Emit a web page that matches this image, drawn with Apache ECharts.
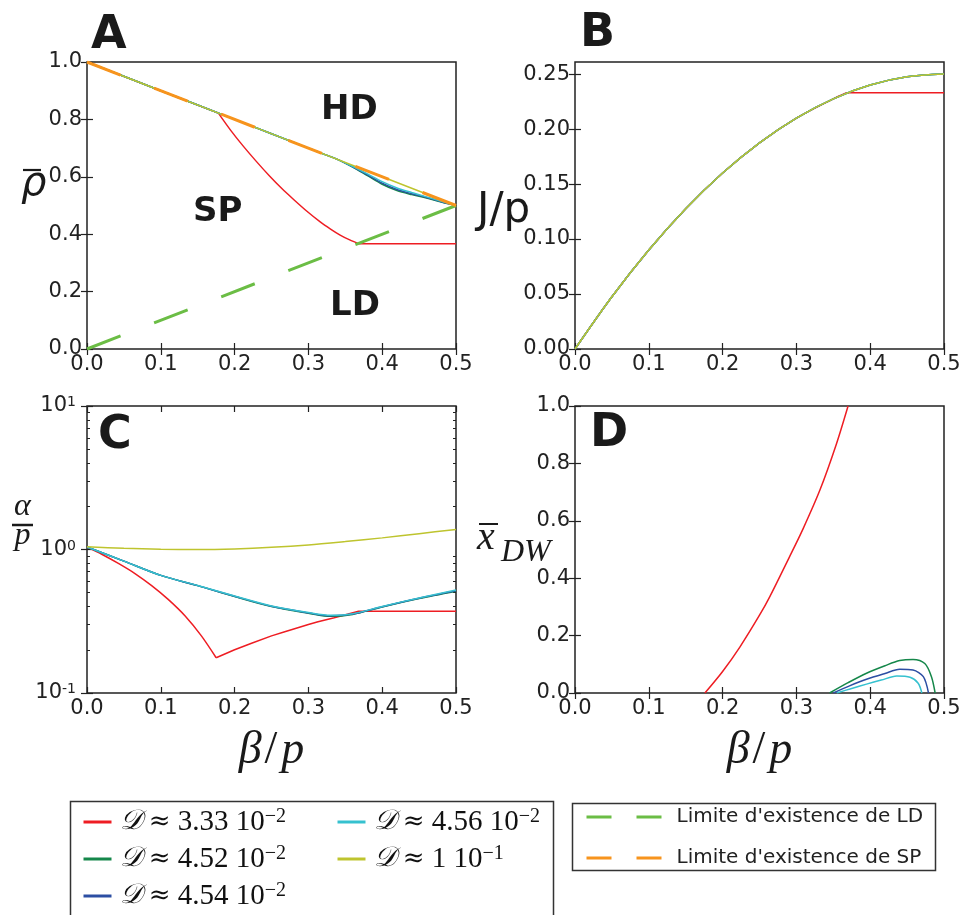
<!DOCTYPE html>
<html>
<head>
<meta charset="utf-8">
<script src="https://cdn.jsdelivr.net/npm/echarts@6/dist/echarts.min.js"></script>
<style>
  html, body { margin: 0; padding: 0; background: #fff; }
  #chart { width: 965px; height: 915px; }
</style>
</head>
<body>
<div id="chart"></div>
<script>
// ---------- Panel A: mean density rho versus beta/p ----------
const aYellowBeta = [0, 0.1, 0.2, 0.3, 0.4, 0.5];
const aYellowRho  = [1.0, 0.9, 0.8, 0.7, 0.6, 0.5];
// red: HD branch, shock (SP) branch, LD plateau
const aRedHdBeta = [0, 0.178];
const aRedHdRho  = [1.0, 0.822];
const aRedSpBeta = [0.178, 0.195, 0.212, 0.230, 0.248, 0.264, 0.280, 0.298, 0.316, 0.330, 0.343, 0.356, 0.368];
const aRedSpRho  = [0.822, 0.761, 0.706, 0.652, 0.601, 0.559, 0.521, 0.480, 0.443, 0.418, 0.397, 0.380, 0.367];
const aRedLdBeta = [0.368, 0.5];
const aRedLdRho  = [0.367, 0.367];
const aDarkBeta = [0, 0.1, 0.2, 0.3, 0.32, 0.34, 0.36, 0.38, 0.40, 0.42, 0.44, 0.46, 0.48, 0.5];
const aGreenRho = [1.0, 0.9, 0.8, 0.7, 0.68, 0.66, 0.634, 0.604, 0.574, 0.552, 0.538, 0.526, 0.512, 0.5];
const aBlueRho  = [1.0, 0.9, 0.8, 0.7, 0.68, 0.66, 0.635, 0.607, 0.578, 0.556, 0.541, 0.528, 0.513, 0.5];
const aCyanRho  = [1.0, 0.9, 0.8, 0.7, 0.68, 0.66, 0.636, 0.610, 0.583, 0.561, 0.545, 0.530, 0.515, 0.5];
const ldLimitBeta = [0, 0.5];
const ldLimitRho  = [0, 0.5];
const spLimitBeta = [0, 0.5];
const spLimitRho  = [1.0, 0.5];

// ---------- Panel B: current J/p ----------
const bBeta    = [0, 0.05, 0.1, 0.15, 0.2, 0.25, 0.3, 0.35, 0.4, 0.45, 0.5];
const bCurrent = [0, 0.0475, 0.09, 0.1275, 0.16, 0.1875, 0.21, 0.2275, 0.24, 0.2475, 0.25];
const bRedRiseBeta    = [0, 0.05, 0.1, 0.15, 0.2, 0.25, 0.3, 0.35, 0.368];
const bRedRiseCurrent = [0, 0.0475, 0.09, 0.1275, 0.16, 0.1875, 0.21, 0.2275, 0.233];
const bRedFlatBeta    = [0.368, 0.5];
const bRedFlatCurrent = [0.233, 0.233];
const bTicks = [0, 0.05, 0.1, 0.15, 0.2, 0.25];

// ---------- Panel C: alpha/p (log scale) ----------
const cYellowBeta  = [0, 0.05, 0.1, 0.15, 0.2, 0.25, 0.3, 0.35, 0.4, 0.45, 0.5];
const cYellowAlpha = [1.045, 1.02, 1.005, 1.0, 1.01, 1.035, 1.075, 1.135, 1.205, 1.29, 1.38];
const cDarkBeta   = [0, 0.05, 0.1, 0.15, 0.2, 0.25, 0.3, 0.33, 0.36, 0.4, 0.45, 0.5];
const cGreenAlpha = [1.04, 0.83, 0.66, 0.56, 0.47, 0.40, 0.36, 0.342, 0.353, 0.398, 0.455, 0.512];
const cBlueAlpha  = [1.04, 0.83, 0.66, 0.56, 0.472, 0.402, 0.362, 0.345, 0.355, 0.399, 0.457, 0.515];
const cCyanAlpha  = [1.04, 0.83, 0.66, 0.561, 0.474, 0.404, 0.364, 0.348, 0.357, 0.401, 0.46, 0.522];
const cRedFallBeta  = [0, 0.02, 0.0425, 0.065, 0.0876, 0.11, 0.133, 0.155, 0.175];
const cRedFallAlpha = [1.04, 0.927, 0.80, 0.68, 0.56, 0.449, 0.344, 0.25, 0.176];
const cRedRiseBeta  = [0.175, 0.2, 0.223, 0.25, 0.268, 0.3, 0.313, 0.335, 0.354, 0.368, 0.5];
const cRedRiseAlpha = [0.176, 0.2, 0.222, 0.25, 0.267, 0.3, 0.314, 0.335, 0.355, 0.371, 0.371];
const cMajorTicks = [0.1, 1, 10];
const cMinorTicks = [0.2, 0.3, 0.4, 0.5, 0.6, 0.7, 0.8, 0.9, 2, 3, 4, 5, 6, 7, 8, 9];

// ---------- Panel D: domain wall position ----------
const dRedBeta = [0.176, 0.2, 0.2236, 0.25, 0.264, 0.29, 0.309, 0.332, 0.354, 0.37];
const dRedX    = [0, 0.075, 0.161, 0.271, 0.336, 0.471, 0.572, 0.708, 0.866, 1.0];
const dGreenBeta = [0.345, 0.37, 0.395, 0.42, 0.44, 0.458, 0.474, 0.483, 0.488];
const dGreenX    = [0, 0.036, 0.069, 0.095, 0.113, 0.117, 0.103, 0.057, 0];
const dBlueBeta  = [0.35, 0.372, 0.395, 0.42, 0.44, 0.458, 0.472, 0.479];
const dBlueX     = [0, 0.025, 0.048, 0.068, 0.0825, 0.080, 0.057, 0];
const dCyanBeta  = [0.3546, 0.375, 0.395, 0.415, 0.436, 0.454, 0.465, 0.470];
const dCyanX     = [0, 0.016, 0.031, 0.045, 0.059, 0.055, 0.034, 0];

// ---------- legend texts ----------
const diffMantissa = ['3.33', '4.52', '4.54', '4.56', '1'];
const diffExponent = ['\u22122', '\u22122', '\u22122', '\u22122', '\u22121'];
const limitNames = ["Limite d'existence de LD", "Limite d'existence de SP"];

const COL = {
  red: '#ee1d23', green: '#15874a', blue: '#2c4ea3', cyan: '#36c1cf',
  yellow: '#bec42e', ld: '#6bbd45', sp: '#f7941d'
};
const diffNames = diffMantissa.map((m, i) => 'D' + i + ' ' + m + 'e' + diffExponent[i]);

const zip = (xs, ys) => xs.map((x, i) => [x, ys[i]]);

// grid rectangles: A, B, C, D
const grids = [
  { left: 87,  top: 62,  width: 369, height: 287 },
  { left: 575, top: 62,  width: 369, height: 287 },
  { left: 87,  top: 406, width: 369, height: 287 },
  { left: 575, top: 406, width: 369, height: 287 }
].map(g => Object.assign({ show: true, borderColor: '#222', borderWidth: 1.5, backgroundColor: 'transparent', containLabel: false }, g));

const tickStyle = { inside: true, length: 6, lineStyle: { color: '#222', width: 1.2 } };
const labelFont = { color: '#222', fontFamily: 'DejaVu Sans', fontSize: 21 };

const xAxes = [];
const yAxes = [];
for (let g = 0; g < 4; g++) {
  xAxes.push({
    type: 'value', gridIndex: g, min: 0, max: 0.5, interval: 0.1, position: 'bottom',
    axisLine: { show: false }, splitLine: { show: false }, axisTick: tickStyle,
    axisLabel: Object.assign({ margin: 5, showMinLabel: true, showMaxLabel: true, formatter: v => v.toFixed(1) }, labelFont)
  });
  xAxes.push({
    type: 'value', gridIndex: g, min: 0, max: 0.5, interval: 0.1, position: 'top',
    axisLine: { show: false }, splitLine: { show: false }, axisTick: tickStyle, axisLabel: { show: false }
  });
}
// A
yAxes.push({ type: 'value', gridIndex: 0, min: 0, max: 1, interval: 0.2, position: 'left',
  axisLine: { show: false }, splitLine: { show: false }, axisTick: tickStyle,
  axisLabel: Object.assign({ margin: 5, showMinLabel: true, showMaxLabel: true, formatter: v => v.toFixed(1) }, labelFont) });
yAxes.push({ type: 'value', gridIndex: 0, min: 0, max: 1, interval: 0.2, position: 'right',
  axisLine: { show: false }, splitLine: { show: false }, axisTick: tickStyle, axisLabel: { show: false } });
// B
yAxes.push({ type: 'value', gridIndex: 1, min: 0, max: 0.261, position: 'left',
  axisLine: { show: false }, splitLine: { show: false },
  axisTick: Object.assign({ customValues: bTicks }, tickStyle),
  axisLabel: Object.assign({ margin: 5, customValues: bTicks, formatter: v => v.toFixed(2) }, labelFont) });
yAxes.push({ type: 'value', gridIndex: 1, min: 0, max: 0.261, position: 'right',
  axisLine: { show: false }, splitLine: { show: false },
  axisTick: Object.assign({ customValues: bTicks }, tickStyle), axisLabel: { show: false } });
// C (log)
const supRich = {
  b: { fontFamily: 'DejaVu Sans', fontSize: 21, color: '#222' },
  s: { fontFamily: 'DejaVu Sans', fontSize: 14, color: '#222', verticalAlign: 'top' }
};
yAxes.push({ type: 'log', logBase: 10, gridIndex: 2, min: 0.1, max: 10, position: 'left',
  axisLine: { show: false }, splitLine: { show: false },
  axisTick: Object.assign({ customValues: cMajorTicks }, tickStyle),
  axisLabel: { margin: 11, customValues: cMajorTicks, rich: supRich,
    formatter: v => '{b|10}{s|' + Math.round(Math.log10(v)) + '}' } });
yAxes.push({ type: 'log', logBase: 10, gridIndex: 2, min: 0.1, max: 10, position: 'right',
  axisLine: { show: false }, splitLine: { show: false },
  axisTick: Object.assign({ customValues: cMajorTicks }, tickStyle), axisLabel: { show: false } });
// D
yAxes.push({ type: 'value', gridIndex: 3, min: 0, max: 1, interval: 0.2, position: 'left',
  axisLine: { show: false }, splitLine: { show: false }, axisTick: tickStyle,
  axisLabel: Object.assign({ margin: 5, showMinLabel: true, showMaxLabel: true, formatter: v => v.toFixed(1) }, labelFont) });
yAxes.push({ type: 'value', gridIndex: 3, min: 0, max: 1, interval: 0.2, position: 'right',
  axisLine: { show: false }, splitLine: { show: false }, axisTick: tickStyle, axisLabel: { show: false } });
// C minor ticks, both sides
['left', 'right'].forEach(pos => {
  yAxes.push({ type: 'log', logBase: 10, gridIndex: 2, min: 0.1, max: 10, position: pos,
    axisLine: { show: false }, splitLine: { show: false }, axisLabel: { show: false },
    axisTick: { inside: true, length: 3, customValues: cMinorTicks, lineStyle: { color: '#222', width: 1 } } });
});

function curve(name, color, g, beta, vals, smooth) {
  return {
    type: 'line', name, xAxisIndex: 2 * g, yAxisIndex: 2 * g,
    data: zip(beta, vals), symbol: 'none',
    smooth: smooth ? 0.3 : false,
    lineStyle: { color, width: 1.5 }, itemStyle: { color }, z: 3
  };
}
function dashed(name, color, g, beta, vals) {
  return {
    type: 'line', name, xAxisIndex: 2 * g, yAxisIndex: 2 * g,
    data: zip(beta, vals), symbol: 'none',
    lineStyle: { color, width: 3, type: [36, 36] }, itemStyle: { color }, z: 5
  };
}

const series = [
  // A
  curve(diffNames[0], COL.red, 0, aRedHdBeta, aRedHdRho),
  curve(diffNames[0], COL.red, 0, aRedSpBeta, aRedSpRho, true),
  curve(diffNames[0], COL.red, 0, aRedLdBeta, aRedLdRho),
  curve(diffNames[1], COL.green, 0, aDarkBeta, aGreenRho, true),
  curve(diffNames[2], COL.blue, 0, aDarkBeta, aBlueRho, true),
  curve(diffNames[3], COL.cyan, 0, aDarkBeta, aCyanRho, true),
  curve(diffNames[4], COL.yellow, 0, aYellowBeta, aYellowRho),
  dashed(limitNames[0], COL.ld, 0, ldLimitBeta, ldLimitRho),
  dashed(limitNames[1], COL.sp, 0, spLimitBeta, spLimitRho),
  // B
  curve(diffNames[0], COL.red, 1, bRedRiseBeta, bRedRiseCurrent, true),
  curve(diffNames[0], COL.red, 1, bRedFlatBeta, bRedFlatCurrent),
  curve(diffNames[1], COL.green, 1, bBeta, bCurrent, true),
  curve(diffNames[2], COL.blue, 1, bBeta, bCurrent, true),
  curve(diffNames[3], COL.cyan, 1, bBeta, bCurrent, true),
  curve(diffNames[4], COL.yellow, 1, bBeta, bCurrent, true),
  // C
  curve(diffNames[0], COL.red, 2, cRedFallBeta, cRedFallAlpha, true),
  curve(diffNames[0], COL.red, 2, cRedRiseBeta, cRedRiseAlpha),
  curve(diffNames[1], COL.green, 2, cDarkBeta, cGreenAlpha, true),
  curve(diffNames[2], COL.blue, 2, cDarkBeta, cBlueAlpha, true),
  curve(diffNames[3], COL.cyan, 2, cDarkBeta, cCyanAlpha, true),
  curve(diffNames[4], COL.yellow, 2, cYellowBeta, cYellowAlpha, true),
  // D
  curve(diffNames[0], COL.red, 3, dRedBeta, dRedX, true),
  curve(diffNames[1], COL.green, 3, dGreenBeta, dGreenX, true),
  curve(diffNames[2], COL.blue, 3, dBlueBeta, dBlueX, true),
  curve(diffNames[3], COL.cyan, 3, dCyanBeta, dCyanX, true)
];

const legendRich = {
  cal: { fontFamily: 'DejaVu Serif, serif', fontStyle: 'italic', fontSize: 28, color: '#111' },
  ap: { fontFamily: 'DejaVu Serif', fontSize: 26, color: '#111' },
  t: { fontFamily: 'Liberation Serif', fontSize: 29, color: '#111' },
  sup: { fontFamily: 'Liberation Serif', fontSize: 20, color: '#111', verticalAlign: 'top' }
};
const diffFormatter = name => {
  const i = diffNames.indexOf(name);
  return '{cal|\u{1D49F}}{t| }{ap|\u2248}{t| ' + diffMantissa[i] + ' 10}{sup|' + diffExponent[i] + '}';
};
const diffLegend = (names, left) => ({
  data: names, left, top: 807, orient: 'vertical', padding: 0,
  itemWidth: 28, itemHeight: 10, itemGap: 7, selectedMode: false,
  lineStyle: { width: 3 }, itemStyle: { opacity: 0 },
  textStyle: { lineHeight: 30, padding: [0, 0, 0, 3], rich: legendRich },
  formatter: diffFormatter
});

const txt = (text, x, y, font, extra) => ({
  type: 'text', x, y, silent: true,
  style: Object.assign({ text, font, fill: '#1a1a1a', align: 'left', verticalAlign: 'middle' }, extra || {})
});
const bar = (x1, y1, x2, y2, w) => ({
  type: 'line', silent: true,
  shape: { x1, y1, x2, y2 }, style: { stroke: '#1a1a1a', lineWidth: w || 2 }
});
const betaLabelRich = {
  i: { fontFamily: 'Liberation Serif', fontStyle: 'italic', fontSize: 46, fill: '#1a1a1a' },
  s: { fontFamily: 'Liberation Serif', fontSize: 46, fill: '#1a1a1a', padding: [0, 4, 0, 3] }
};

const graphic = [
  // panel letters
  txt('A', 91, 36, 'bold 46px "DejaVu Sans"'),
  txt('B', 580, 34, 'bold 46px "DejaVu Sans"'),
  txt('C', 98, 436, 'bold 46px "DejaVu Sans"'),
  txt('D', 590, 434, 'bold 46px "DejaVu Sans"'),
  // phase regions
  txt('HD', 321, 110, 'bold 34px "DejaVu Sans"'),
  txt('SP', 193, 212, 'bold 34px "DejaVu Sans"'),
  txt('LD', 330, 306, 'bold 34px "DejaVu Sans"'),
  // axis titles
  txt('\u03C1', 21, 185, 'italic 40px "DejaVu Sans"'),
  bar(23, 170, 41, 170, 2.2),
  txt('J/p', 477, 211, '42px "DejaVu Sans"'),
  txt('\u03B1', 22.5, 507, 'italic 32px "Liberation Serif"', { align: 'center' }),
  bar(12, 525, 33, 525, 2.5),
  txt('p', 22.5, 536, 'italic 32px "Liberation Serif"', { align: 'center' }),
  txt('x', 477, 538, 'italic 40px "Liberation Serif"'),
  bar(479, 524, 498, 524, 2),
  txt('DW', 501, 553, 'italic 32px "Liberation Serif"'),
  txt('{i|\u03B2}{s|/}{i|p}', 271.5, 751, 'italic 46px "Liberation Serif"', { align: 'center', rich: betaLabelRich }),
  txt('{i|\u03B2}{s|/}{i|p}', 759.5, 751, 'italic 46px "Liberation Serif"', { align: 'center', rich: betaLabelRich }),
  // legend frames
  { type: 'rect', silent: true, shape: { x: 70.5, y: 801.5, width: 483, height: 140 },
    style: { fill: 'none', stroke: '#333', lineWidth: 1.5 } },
  { type: 'rect', silent: true, shape: { x: 572.5, y: 803.5, width: 363, height: 67 },
    style: { fill: 'none', stroke: '#333', lineWidth: 1.5 } }
];

const chart = echarts.init(document.getElementById('chart'), null, { renderer: 'canvas' });
chart.setOption({
  animation: false,
  backgroundColor: '#fff',
  grid: grids,
  xAxis: xAxes,
  yAxis: yAxes,
  series,
  legend: [
    diffLegend(diffNames.slice(0, 3), 82),
    diffLegend(diffNames.slice(3, 5), 336),
    {
      data: limitNames, left: 585, top: 805, orient: 'vertical', padding: 0,
      itemWidth: 75, itemHeight: 10, itemGap: 17, selectedMode: false,
      lineStyle: { width: 3, type: [25, 25] }, itemStyle: { opacity: 0 },
      textStyle: { fontFamily: 'DejaVu Sans', fontSize: 20, color: '#222', lineHeight: 24, padding: [0, 0, 0, 10] }
    }
  ],
  graphic
});
</script>
</body>
</html>
